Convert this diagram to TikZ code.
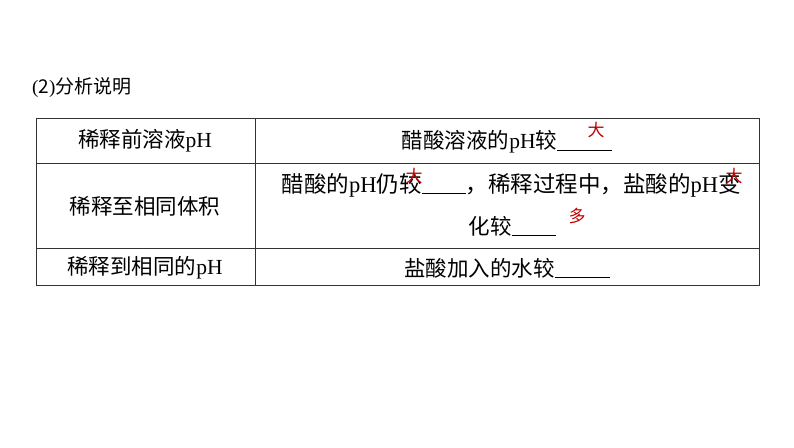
\documentclass[tikz,border=0pt]{standalone}
\usepackage{fontspec}
\setmainfont{Liberation Serif}
\newfontfamily\cjk{Noto Sans CJK SC}
\newcommand{\blank}[1]{\rule[-2pt]{#1}{0.7pt}}
\definecolor{ans}{RGB}{192,0,0}
\tikzset{txt/.style={inner sep=0pt,font=\fontsize{21.5}{24}\selectfont},
 red/.style={inner sep=0pt,text=ans,font=\cjk\fontsize{17}{18}\selectfont}}
\begin{document}
\begin{tikzpicture}[x=1pt,y=-1pt]
\useasboundingbox (0,0) rectangle (794,447);
\fill[white] (0,0) rectangle (794,447);
\node[txt,anchor=west,font=\fontsize{19}{22}\selectfont] (title) at (32,88) {({\cjk 2}){\cjk 分析说明}};
\draw[line width=0.8pt,black!80] (36,118) rectangle (759,285);
\draw[line width=0.8pt,black!80] (36,163) -- (759,163) (36,248) -- (759,248) (255,118) -- (255,285);
\node[txt] (l1) at (145,141) {{\cjk 稀释前溶液}pH};
\node[txt] (l2) at (145,206) {\cjk 稀释至相同体积};
\node[txt] (l3) at (145,268) {{\cjk 稀释到相同的}pH};
\node[txt] (r1) at (507,142) {{\cjk 醋酸溶液的}pH{\cjk 较}\blank{55pt}};
\node[txt,font=\fontsize{22.5}{24}\selectfont] (r2a) at (511,185) {{\cjk 醋酸的}pH{\cjk 仍较}\blank{44pt}{\cjk ，稀释过程中，盐酸的}pH{\cjk 变}};
\node[txt] (r2b) at (512,226) {{\cjk 化较}\blank{44pt}};
\node[txt] (r3) at (507,268) {{\cjk 盐酸加入的水较}\blank{55pt}};
\node[red] (a1) at (596,130) {大};
\node[red] (a2) at (414,176) {大};
\node[red] (a3) at (734,176) {大};
\node[red] (a4) at (577,216) {多};
\end{tikzpicture}
\end{document}
